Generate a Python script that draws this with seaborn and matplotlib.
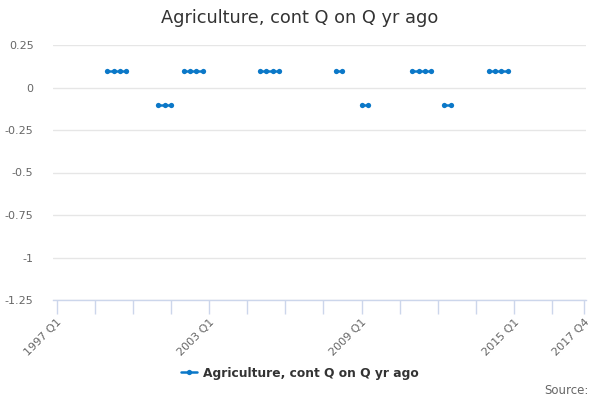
import numpy as np
import pandas as pd
import seaborn as sns
import matplotlib
matplotlib.use("Agg")
import matplotlib.pyplot as plt
from matplotlib.lines import Line2D

N = None
years = list(range(1997, 2018))
quarters = [f"{y} Q{q}" for y in years for q in range(1, 5)]
values = [
    N, N, N, N,          # 1997
    N, N, N, N,          # 1998
    0.1, 0.1, 0.1, 0.1,  # 1999
    N, N, N, N,          # 2000
    -0.1, -0.1, -0.1, N, # 2001
    0.1, 0.1, 0.1, 0.1,  # 2002
    N, N, N, N,          # 2003
    N, N, N, N,          # 2004
    0.1, 0.1, 0.1, 0.1,  # 2005
    N, N, N, N,          # 2006
    N, N, N, N,          # 2007
    0.1, 0.1, N, N,      # 2008
    -0.1, -0.1, N, N,    # 2009
    N, N, N, N,          # 2010
    0.1, 0.1, 0.1, 0.1,  # 2011
    N, -0.1, -0.1, N,    # 2012
    N, N, N, N,          # 2013
    0.1, 0.1, 0.1, 0.1,  # 2014
    N, N, N, N,          # 2015
    N, N, N, N,          # 2016
    N, N, N, N,          # 2017
]
series_name = "Agriculture, cont Q on Q yr ago"
yticks = [0.25, 0, -0.25, -0.5, -0.75, -1, -1.25]
ytick_labels = ["0.25", "0", "-0.25", "-0.5", "-0.75", "-1", "-1.25"]
xlabel_quarters = ["1997 Q1", "2003 Q1", "2009 Q1", "2015 Q1", "2017 Q4"]

color = "#0b78c8"

df = pd.DataFrame({"quarter": quarters, "value": pd.array(values, dtype="Float64").astype(float)})
df["idx"] = np.arange(len(df))
isna = df["value"].isna()
df["seg"] = isna.cumsum()
df = df[~isna]

sns.set_theme(style="white")
plt.rcParams["font.family"] = ["DejaVu Sans"]

fig = plt.figure(figsize=(6, 4), dpi=100)
ax = fig.add_axes([53/600, 1 - 300/400, (586 - 53)/600, (300 - 45)/400])

sns.lineplot(data=df, x="idx", y="value", units="seg", estimator=None,
             color=color, marker="o", markersize=3.8, markeredgewidth=0,
             linewidth=1.8, ax=ax, legend=False)

n = len(quarters)
ppq = (584 - 56.5) / (n - 1)
ax.set_xlim(-(56.5 - 53) / ppq, (n - 1) + (586 - 584) / ppq)
ax.set_ylim(-1.25, 0.25)

ax.set_yticks(yticks)
ax.set_yticklabels(ytick_labels)
ax.yaxis.grid(True, color="#e6e6e6", linewidth=1)
ax.tick_params(axis="y", left=False, length=0, labelsize=8, labelcolor="#666666", pad=14)

tick_pos = list(range(0, n, 6)) + [n - 1]
ax.set_xticks(tick_pos)
ax.set_xticklabels([q if q in xlabel_quarters else "" for q in (quarters[i] for i in tick_pos)],
                   rotation=45, ha="right", va="top", rotation_mode="anchor")
ax.tick_params(axis="x", bottom=True, length=10, width=1, color="#ccd6eb", labelsize=8,
               labelcolor="#666666", pad=2, direction="out")

ax.set_xlabel("")
ax.set_ylabel("")
for s in ["top", "right", "left"]:
    ax.spines[s].set_visible(False)
ax.spines["bottom"].set_color("#ccd6eb")
ax.spines["bottom"].set_linewidth(1)

fig.text(0.5, 1 - 18/400, series_name, ha="center", va="center",
         fontsize=12.8, color="#333333")

handle = Line2D([], [], color=color, marker="o", markersize=3.8,
                markeredgewidth=0, linewidth=1.8)
fig.legend([handle], [series_name], loc="center", bbox_to_anchor=(0.5, 1 - 373/400),
           frameon=False, handlelength=1.3, handletextpad=0.5,
           prop={"weight": "bold", "size": 8.8})
for t in fig.legends[0].get_texts():
    t.set_color("#333333")

fig.text(589/600, 1 - 391/400, "Source:", ha="right", va="center",
         fontsize=8.5, color="#666666")

fig.savefig("out.png", dpi=100)
